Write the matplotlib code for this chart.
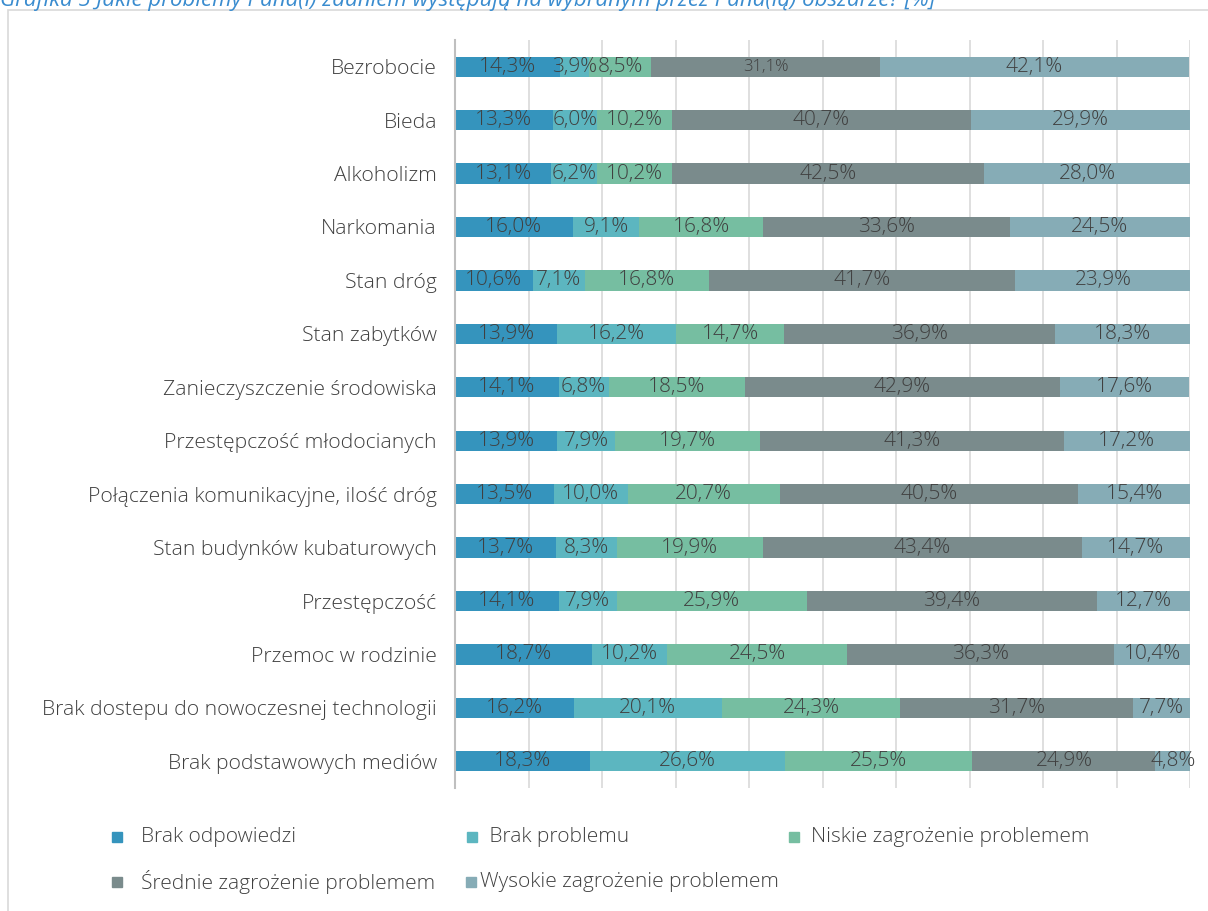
import matplotlib
matplotlib.use('Agg')
import matplotlib.pyplot as plt
from matplotlib.patches import Rectangle

categories = ['Bezrobocie', 'Bieda', 'Alkoholizm', 'Narkomania', 'Stan dróg',
              'Stan zabytków', 'Zanieczyszczenie środowiska',
              'Przestępczość młodocianych', 'Połączenia komunikacyjne, ilość dróg',
              'Stan budynków kubaturowych', 'Przestępczość', 'Przemoc w rodzinie',
              'Brak dostepu do nowoczesnej technologii', 'Brak podstawowych mediów']
brak_odp = [14.3, 13.3, 13.1, 16.0, 10.6, 13.9, 14.1, 13.9, 13.5, 13.7, 14.1, 18.7, 16.2, 18.3]
brak_probl = [3.9, 6.0, 6.2, 9.1, 7.1, 16.2, 6.8, 7.9, 10.0, 8.3, 7.9, 10.2, 20.1, 26.6]
niskie = [8.5, 10.2, 10.2, 16.8, 16.8, 14.7, 18.5, 19.7, 20.7, 19.9, 25.9, 24.5, 24.3, 25.5]
srednie = [31.1, 40.7, 42.5, 33.6, 41.7, 36.9, 42.9, 41.3, 40.5, 43.4, 39.4, 36.3, 31.7, 24.9]
wysokie = [42.1, 29.9, 28.0, 24.5, 23.9, 18.3, 17.6, 17.2, 15.4, 14.7, 12.7, 10.4, 7.7, 4.8]

series = [brak_odp, brak_probl, niskie, srednie, wysokie]
names = ['Brak odpowiedzi', ' Brak problemu', 'Niskie zagrożenie problemem',
         'Średnie zagrożenie problemem', 'Wysokie zagrożenie problemem']
colors = ['#3594bd', '#5cb6c0', '#76bea1', '#7a8b8c', '#86acb6']

plt.rcParams['font.family'] = ['Open Sans', 'DejaVu Sans']
txt = '#404040'

fig = plt.figure(figsize=(12.08, 9.11), dpi=100)
# ramka wykresu
fig.add_artist(Rectangle((8 / 1208, -0.01), 1.02, 1 - 10 / 911 + 0.01,
                         transform=fig.transFigure, fill=False,
                         edgecolor='#d9d9d9', linewidth=1.2))
# tytul - w oryginale uciety u gory
fig.text(0.0, 0.999, 'Grafika 5 Jakie problemy Pana(i) zdaniem występują na wybranym przez Pana(ią) obszarze? [%]',
         color='#3a8ccf', fontstyle='italic', fontsize=16, va='center', ha='left')

ax = fig.add_axes([455 / 1208, 1 - 788 / 911, (1190 - 455) / 1208, (788 - 40) / 911])
ypos = list(range(len(categories)))
left = [0] * len(categories)
for vals, name, col in zip(series, names, colors):
    bars = ax.barh(ypos, vals, left=left, height=0.38, color=col, label=name, zorder=2)
    for i, v in enumerate(vals):
        fs = 12 if (i == 0 and col == colors[3]) else 15
        ax.text(left[i] + v / 2, i, ('%.1f%%' % v).replace('.', ','), ha='center', va='center',
                fontsize=fs, color=txt, fontweight='light', zorder=3)
    left = [l + v for l, v in zip(left, vals)]

ax.set_xlim(0, 100)
ax.set_ylim(len(categories) - 0.5, -0.5)
ax.set_yticks(ypos)
ax.set_yticklabels(categories, fontsize=15.2, color=txt, fontweight='light')
ax.set_xticks(range(0, 101, 10))
ax.set_xticklabels([])
ax.tick_params(axis='both', length=0, pad=13)
ax.xaxis.grid(True, color='#d9d9d9', linewidth=1.2, zorder=0)
for s in ['top', 'right', 'bottom']:
    ax.spines[s].set_visible(False)
ax.spines['left'].set_color('#bfbfbf')
ax.spines['left'].set_linewidth(1.5)

# legenda (pozycje jak w Excelu)
sq_x = [112, 467, 789, 112, 466]
tx_x = [141, 484, 811, 141, 480]
row_y = [837, 837, 837, 882, 882]
for sx, tx, py, name, col in zip(sq_x, tx_x, row_y, names, colors):
    fig.add_artist(Rectangle((sx / 1208, 1 - (py + 5) / 911), 10 / 1208, 10 / 911,
                             transform=fig.transFigure, color=col))
    fig.text(tx / 1208, 1 - py / 911, name, fontsize=15, color=txt,
             fontweight='light', va='center', ha='left')

fig.savefig('out.png', dpi=100)
